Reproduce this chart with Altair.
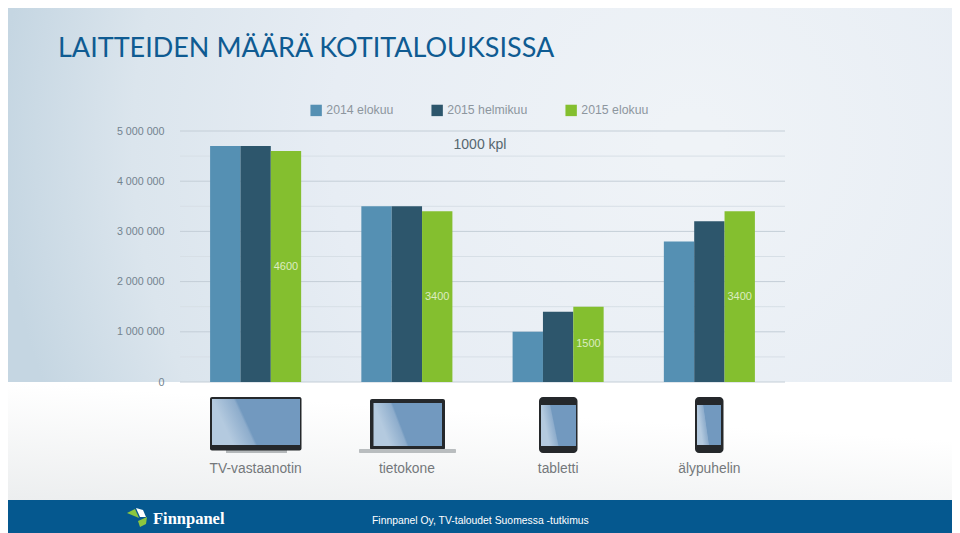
import altair as alt
import pandas as pd

categories = ["TV-vastaanotin", "tietokone", "tabletti", "älypuhelin"]
series = ["2014 elokuu", "2015 helmikuu", "2015 elokuu"]
colors = ["#5590b3", "#2d566c", "#84bf2f"]
s2014 = [4700000, 3500000, 1000000, 2800000]
s2015h = [4700000, 3500000, 1400000, 3200000]
s2015e = [4600000, 3400000, 1500000, 3400000]
major_ticks = [0, 1000000, 2000000, 3000000, 4000000, 5000000]
minor_ticks = [500000, 1500000, 2500000, 3500000, 4500000]

rows = []
for i, c in enumerate(categories):
    for s, vals in zip(series, [s2014, s2015h, s2015e]):
        rows.append({"cat": c, "series": s, "v": vals[i]})
df = pd.DataFrame(rows)
green = df[df.series == "2015 elokuu"].copy()
green["mid"] = green.v / 2
green["label"] = (green.v / 1000).astype(int).astype(str)

L, T = 180, 131   # page position of the plot origin


def X(p):
    return alt.value(p - L)


def Y(p):
    return alt.value(p - T)


def rect(x0, y0, x1, y1, fill, r=0):
    return alt.Chart(pd.DataFrame({"a": [0]})).mark_rect(fill=fill, cornerRadius=r).encode(
        x=X(x0), x2=X(x1), y=Y(y0), y2=Y(y1))


def txt(x, y, s, size, color, font="Liberation Sans", align="left", weight="normal", **kw):
    return alt.Chart(pd.DataFrame({"t": [s]})).mark_text(
        fontSize=size, color=color, font=font, align=align, baseline="alphabetic",
        fontWeight=weight, **kw).encode(x=X(x), y=Y(y), text="t:N")


def shape(x, y, path, size, color):
    return alt.Chart(pd.DataFrame({"a": [0]})).mark_point(
        shape=path, size=size, filled=True, fill=color, opacity=1, strokeWidth=0).encode(x=X(x), y=Y(y))


bg = alt.RadialGradient(
    gradient="radial", x1=0.72, y1=0.45, r1=0.03, x2=0.72, y2=0.45, r2=0.72,
    stops=[alt.GradientStop(offset=0, color="#eff3f7"),
           alt.GradientStop(offset=0.5, color="#e7edf4"),
           alt.GradientStop(offset=0.8, color="#dbe5ed"),
           alt.GradientStop(offset=1, color="#c5d6e2")])
white = alt.LinearGradient(
    gradient="linear", x1=0, y1=1, x2=0.4, y2=0.2,
    stops=[alt.GradientStop(offset=0, color="#eceeef"),
           alt.GradientStop(offset=1, color="#ffffff")])


def screen():
    return alt.LinearGradient(
        gradient="linear", x1=0, y1=0, x2=1, y2=-0.24,
        stops=[alt.GradientStop(offset=0, color="#b4cadf"),
               alt.GradientStop(offset=0.23, color="#8eadcc"),
               alt.GradientStop(offset=0.26, color="#7299bf"),
               alt.GradientStop(offset=1, color="#7299bf")])


backdrop = [
    rect(0, 0, 960, 382, bg),
    rect(0, 382, 960, 500, white),
    rect(0, 500, 960, 533, "#05588f"),
]

grid = [
    alt.Chart(pd.DataFrame({"v": minor_ticks})).mark_rule(color="#d7dfe6", strokeWidth=1).encode(
        y=alt.Y("v:Q"), x=alt.value(0), x2=alt.value(605)),
    alt.Chart(pd.DataFrame({"v": major_ticks})).mark_rule(color="#c4ced7", strokeWidth=1).encode(
        y=alt.Y("v:Q"), x=alt.value(0), x2=alt.value(605)),
]

x_enc = alt.X(
    "cat:N", sort=categories, title=None,
    scale=alt.Scale(paddingInner=0.398, paddingOuter=0.199),
    axis=alt.Axis(domain=False, ticks=False, labelAngle=0, labelPadding=79, labelFontSize=13.8,
                  labelColor="#74787b", labelFont="Liberation Sans", zindex=1, grid=False))
y_enc = alt.Y(
    "v:Q", title=None, scale=alt.Scale(domain=[0, 5000000], nice=False),
    axis=alt.Axis(values=major_ticks, domain=False, ticks=False, grid=False, labelPadding=16,
                  labelFontSize=10.7, labelColor="#73838f", labelFont="Liberation Sans", zindex=1,
                  labelExpr="replace(format(datum.value, ','), /,/g, ' ')"))

bars = alt.Chart(df).mark_bar().encode(
    x=x_enc, y=y_enc,
    xOffset=alt.XOffset("series:N", sort=series),
    color=alt.Color(
        "series:N", sort=series, scale=alt.Scale(domain=series, range=colors),
        legend=alt.Legend(
            title=None, orient="none", direction="horizontal", legendX=310 - L, legendY=104 - T,
            symbolType="square", symbolSize=130, symbolStrokeWidth=0, symbolOpacity=1,
            labelFontSize=12.3, labelColor="#8d969e", labelFont="Liberation Sans", labelOffset=4,
            columnPadding=37, zindex=1)))

values = alt.Chart(green).mark_text(
    color="#dcecc0", fontSize=11, font="Liberation Sans", baseline="middle").encode(
    x=alt.X("cat:N", sort=categories),
    xOffset=alt.XOffset("series:N", sort=series, scale=alt.Scale(domain=series)),
    y=alt.Y("mid:Q"), text="label:N")

black = "#25282b"
devices = [
    # TV
    rect(226, 449, 287, 453, "#b4b8ba"),
    rect(210, 397, 301.5, 450.5, black, 2),
    rect(212, 399, 300, 445, screen()),
    # laptop
    rect(370, 399, 445, 450, black, 2),
    rect(373.5, 403, 442, 446, screen()),
    rect(359, 449, 456, 453, "#b9bdbf", 1),
    # tablet
    rect(539, 397, 577.5, 453, black, 4),
    rect(541, 405, 576, 446, screen()),
    # phone
    rect(695, 397, 723.5, 453, black, 4),
    rect(697, 405, 721, 445, screen()),
]

texts = [
    txt(58, 57, "LAITTEIDEN MÄÄRÄ KOTITALOUKSISSA", 27, "#0f5b92", font="Lato"),
    txt(480, 149, "1000 kpl", 14, "#56676f", align="center"),
    txt(372, 524, "Finnpanel Oy, TV-taloudet Suomessa -tutkimus", 10.4, "#ffffff"),
    txt(153, 524, "Finnpanel", 16.5, "#ffffff", font="Liberation Serif", weight="bold"),
]

logo = [
    shape(137, 517, "M-1,-0.4L-0.2,-0.8L0.2,0.1Z", 400, "#8cc63f"),
    shape(137, 517, "M-0.1,-0.9L0.6,-0.7L0.9,0L0.3,0Z", 400, "#ffffff"),
    shape(137, 517, "M1,0L0.9,0.7L0.3,1L0.1,0.4Z", 400, "#8cc63f"),
]

chart = alt.layer(
    *backdrop, *grid, bars, values, *devices, *texts, *logo
).resolve_scale(x="shared", y="shared").properties(
    width=605, height=251,
    padding={"left": L - 8, "top": T - 8, "right": 952 - L - 605, "bottom": 533 - 382},
    autosize=alt.AutoSizeParams(type="none"),
).configure_view(strokeWidth=0)

chart.save("out.html", embed_options={"renderer": "svg", "actions": False})
